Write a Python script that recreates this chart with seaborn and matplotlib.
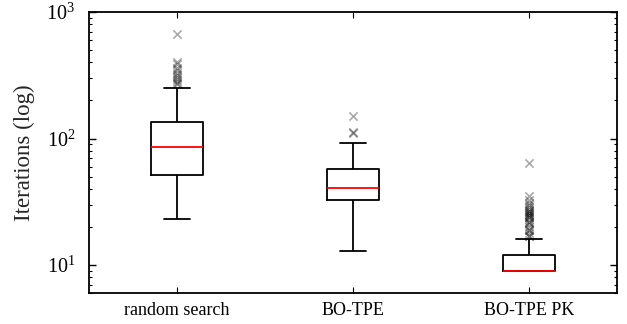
import matplotlib
matplotlib.use("Agg")
import matplotlib.pyplot as plt
import seaborn as sns
import pandas as pd

# Methods compared
methods = ["random search", "BO-TPE", "BO-TPE PK"]

# Box summaries per method: lower whisker, Q1, median, Q3, upper whisker
random_search_box = [23, 52, 85, 136, 250]
bo_tpe_box = [13, 33, 41, 57, 92]
bo_tpe_pk_box = [9, 9, 9, 12, 16]

# Runs lying beyond the whiskers
random_search_out = [268, 275, 285, 295, 305, 318, 330, 345, 360, 385, 405, 673]
bo_tpe_out = [111, 113, 150]
bo_tpe_pk_out = [17, 17, 18, 19, 19, 20, 21, 22, 22, 23, 24, 24, 25, 25,
                 26, 26, 27, 27, 28, 29, 30, 31, 33, 35, 64]

y_ticks = [10, 100, 1000]
y_label = "Iterations (log)"

box_df = pd.DataFrame({
    "method": [methods[0]] * len(random_search_box)
    + [methods[1]] * len(bo_tpe_box)
    + [methods[2]] * len(bo_tpe_pk_box),
    "iterations": random_search_box + bo_tpe_box + bo_tpe_pk_box,
})
out_df = pd.DataFrame({
    "method": [methods[0]] * len(random_search_out)
    + [methods[1]] * len(bo_tpe_out)
    + [methods[2]] * len(bo_tpe_pk_out),
    "iterations": random_search_out + bo_tpe_out + bo_tpe_pk_out,
})

sns.set_style("ticks")
plt.rcParams["font.family"] = ["Liberation Serif", "DejaVu Serif"]
plt.rcParams["mathtext.fontset"] = "stix"

fig = plt.figure(figsize=(6.27, 3.24), dpi=100)
ax = fig.add_axes([0.142, 0.095, 0.842, 0.868])

lw = 1.3
sns.boxplot(
    data=box_df, x="method", y="iterations", order=methods,
    fill=False, color="black", linecolor="black", width=0.3,
    showfliers=False, linewidth=lw, ax=ax,
    boxprops=dict(color="black", linewidth=lw),
    whiskerprops=dict(color="black", linewidth=lw),
    capprops=dict(color="black", linewidth=lw),
    medianprops=dict(color="red", linewidth=lw),
)
sns.stripplot(
    data=out_df, x="method", y="iterations", order=methods,
    jitter=False, marker="x", color="black", alpha=0.33,
    size=6, linewidth=1.2, ax=ax,
)

ax.set_yscale("log")
ax.set_ylim(6, 1000)
ax.set_xlim(-0.5, 2.5)
ax.set_yticks(y_ticks)
ax.set_xlabel("")
ax.set_ylabel(y_label, fontsize=16.5, labelpad=8)

ax.tick_params(axis="both", which="both", direction="in",
               top=True, right=True, colors="black")
ax.tick_params(axis="y", which="major", length=5, width=1, pad=10, labelsize=14.5)
ax.tick_params(axis="y", which="minor", length=2.5, width=0.8)
ax.tick_params(axis="x", which="major", length=4, width=0.8, pad=6, labelsize=13)
for s in ax.spines.values():
    s.set_linewidth(1.3)
    s.set_color("black")

fig.savefig("out.png", dpi=100)
